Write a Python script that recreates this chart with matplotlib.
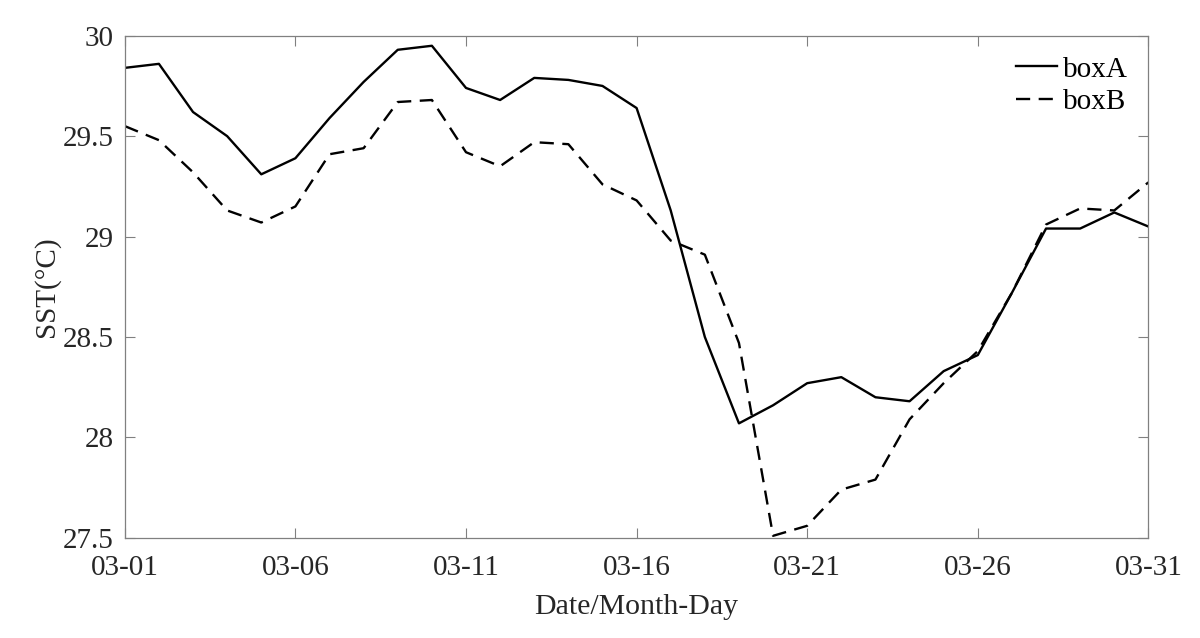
import numpy as np
import matplotlib
matplotlib.use('Agg')
import matplotlib.pyplot as plt

plt.rcParams['font.family'] = ['Liberation Serif', 'DejaVu Serif']

days = np.arange(1, 32)
tick_days = [1, 6, 11, 16, 21, 26, 31]
tick_labels = ['03-01', '03-06', '03-11', '03-16', '03-21', '03-26', '03-31']

boxA = [29.84, 29.86, 29.62, 29.50, 29.31, 29.39, 29.59, 29.77, 29.93, 29.95,
        29.74, 29.68, 29.79, 29.78, 29.75, 29.64, 29.13, 28.50, 28.07, 28.16,
        28.27, 28.30, 28.20, 28.18, 28.33, 28.41, 28.72, 29.04, 29.04, 29.12,
        29.05]
boxB = [29.55, 29.48, 29.32, 29.13, 29.07, 29.15, 29.41, 29.44, 29.67, 29.68,
        29.42, 29.35, 29.47, 29.46, 29.26, 29.18, 28.98, 28.91, 28.47, 27.51,
        27.56, 27.74, 27.79, 28.09, 28.27, 28.43, 28.72, 29.06, 29.14, 29.13,
        29.27]

fig = plt.figure(figsize=(12, 6.38), dpi=100)
ax = fig.add_axes([0.104, 0.157, 0.853, 0.787])

ax.plot(days, boxA, color='black', lw=1.7, label='boxA')
ax.plot(days, boxB, color='black', lw=1.7, dashes=(6, 3.6), label='boxB')

ax.set_xlim(1, 31)
ax.set_ylim(27.5, 30)
ax.set_xticks(tick_days)
ax.set_xticklabels(tick_labels)
ax.set_yticks([27.5, 28, 28.5, 29, 29.5, 30])
ax.set_yticklabels(['27.5', '28', '28.5', '29', '29.5', '30'])

for s in ax.spines.values():
    s.set_color('#808080')
    s.set_linewidth(0.9)
ax.tick_params(direction='in', length=7, width=0.8, color='#808080',
               labelsize=21, labelcolor='#262626', top=True, right=True,
               labeltop=False, labelright=False)
ax.tick_params(axis='x', pad=12)
ax.tick_params(axis='y', pad=8)

ax.set_xlabel('Date/Month-Day', fontsize=21.5, color='#262626', labelpad=10)
ax.set_ylabel('SST(°C)', fontsize=21, color='#262626', labelpad=2)

ax.legend(loc='upper right', frameon=False, fontsize=21, handlelength=1.4,
          handletextpad=0.2, labelspacing=0.2, borderaxespad=0.3)

fig.savefig('out.png', dpi=100)
